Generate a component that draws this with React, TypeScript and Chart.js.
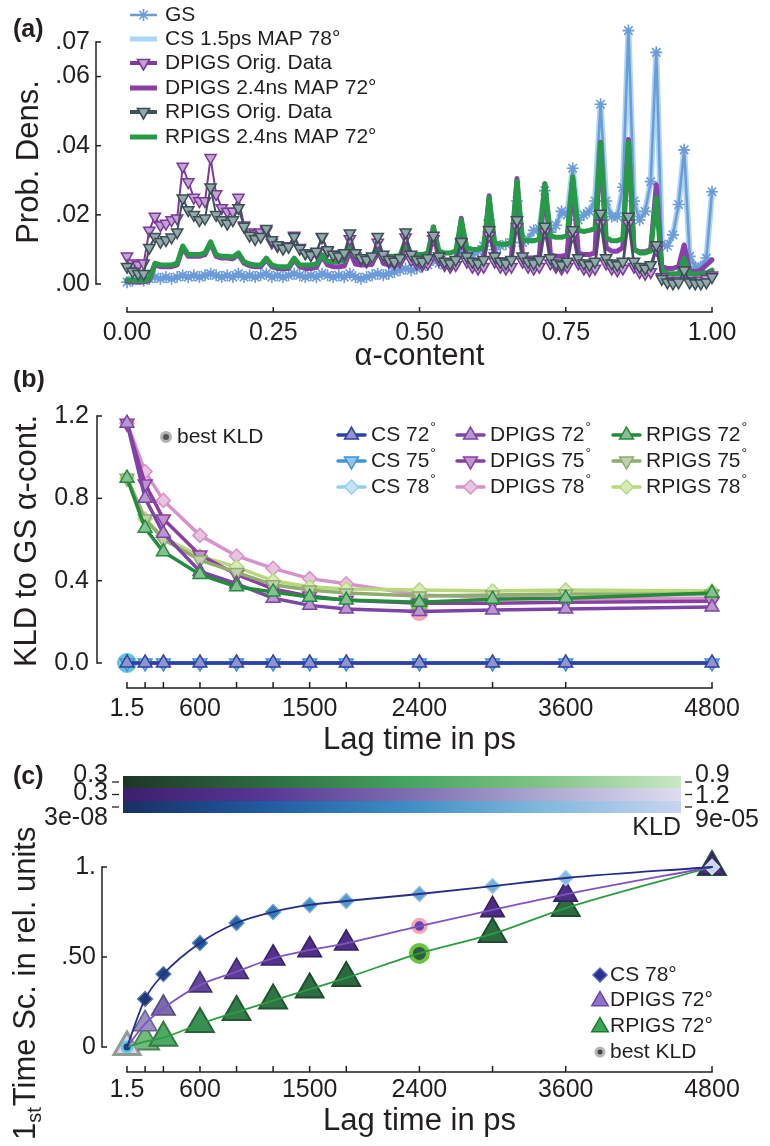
import React, { useEffect, useRef } from 'react';
import { Chart, registerables } from 'chart.js';
import { drawPoint } from 'chart.js/helpers';

Chart.register(...registerables);

// ---------------- Panel (a): α-content histograms ----------------
// histogram bin centres k/105 (k = 0..105)
const alphaBins: number[] = Array.from({ length: 106 }, (_, k) => k / 105);
const alphaTicks = [0, 0.25, 0.5, 0.75, 1];
const alphaTickLabels = ['0.00', '0.25', '0.50', '0.75', '1.00'];
const densTicks = [0, 0.02, 0.04, 0.06, 0.07];
const densTickLabels = ['.00', '.02', '.04', '.06', '.07'];

const gsDensity = [
  0.0005, 0.001, 0.0015, 0.001, 0.0015,
  0.002, 0.0015, 0.002, 0.0015, 0.002,
  0.0025, 0.002, 0.0025, 0.002, 0.0025,
  0.003, 0.0025, 0.002, 0.0025, 0.002,
  0.003, 0.002, 0.0025, 0.002, 0.0025,
  0.003, 0.002, 0.0025, 0.002, 0.0025,
  0.003, 0.0025, 0.002, 0.0025, 0.002,
  0.003, 0.0025, 0.002, 0.0025, 0.002,
  0.003, 0.002, 0.0015, 0.002, 0.0025,
  0.003, 0.0025, 0.003, 0.0035, 0.004,
  0.0045, 0.004, 0.0045, 0.005, 0.0055,
  0.007, 0.006, 0.0055, 0.006, 0.0065,
  0.009, 0.008, 0.0085, 0.0095, 0.011,
  0.0185, 0.01, 0.011, 0.0115, 0.012,
  0.024, 0.012, 0.013, 0.0155, 0.016,
  0.027, 0.015, 0.017, 0.021, 0.02,
  0.0335, 0.0185, 0.02, 0.021, 0.024,
  0.052, 0.024, 0.0195, 0.0195, 0.028,
  0.0733, 0.024, 0.0185, 0.021, 0.0296,
  0.067, 0.0115, 0.011, 0.0142, 0.023,
  0.0388, 0.008, 0.005, 0.005, 0.0075,
  0.0267,
];
// CS 1.5 ps MAP 78° coincides with GS in the picture
const csMapDensity = gsDensity;

const dpigsOrigDensity = [
  0.008, 0.006, 0.0055, 0.006, 0.0155,
  0.0195, 0.017, 0.0175, 0.0185, 0.019,
  0.034, 0.0295, 0.025, 0.024, 0.024,
  0.0365, 0.026, 0.022, 0.021, 0.021,
  0.025, 0.017, 0.015, 0.0145, 0.015,
  0.0155, 0.012, 0.011, 0.0105, 0.011,
  0.014, 0.0105, 0.009, 0.0085, 0.009,
  0.0135, 0.0095, 0.0085, 0.008, 0.0085,
  0.013, 0.008, 0.007, 0.0065, 0.007,
  0.012, 0.0075, 0.0065, 0.006, 0.0065,
  0.0135, 0.007, 0.006, 0.0055, 0.006,
  0.013, 0.007, 0.0055, 0.005, 0.0055,
  0.012, 0.0065, 0.005, 0.0045, 0.005,
  0.014, 0.0065, 0.005, 0.0045, 0.005,
  0.0165, 0.0065, 0.005, 0.0045, 0.005,
  0.015, 0.006, 0.005, 0.0045, 0.005,
  0.014, 0.006, 0.0045, 0.004, 0.0045,
  0.0175, 0.006, 0.0045, 0.004, 0.0045,
  0.0175, 0.005, 0.0035, 0.003, 0.0035,
  0.01, 0.002, 0.001, 0.0008, 0.001,
  0.004, 0.001, 0.0008, 0.001, 0.0015,
  0.0025,
];

const dpigsMapDensity = [
  0.0008, 0.0006, 0.0006, 0.0006, 0.001,
  0.0055, 0.005, 0.005, 0.005, 0.0055,
  0.0105, 0.008, 0.008, 0.008, 0.0085,
  0.0118, 0.008, 0.0075, 0.0075, 0.0073,
  0.0085, 0.006, 0.0053, 0.005, 0.005,
  0.007, 0.005, 0.0045, 0.0045, 0.0045,
  0.007, 0.005, 0.0045, 0.0045, 0.0048,
  0.008, 0.0055, 0.005, 0.005, 0.0052,
  0.0095, 0.0058, 0.0055, 0.0055, 0.0058,
  0.0105, 0.006, 0.0055, 0.0055, 0.006,
  0.012, 0.0062, 0.0058, 0.0058, 0.0062,
  0.0165, 0.0065, 0.006, 0.006, 0.0065,
  0.019, 0.007, 0.0065, 0.0065, 0.007,
  0.0255, 0.0075, 0.007, 0.007, 0.0075,
  0.0305, 0.008, 0.0075, 0.0075, 0.008,
  0.029, 0.0085, 0.008, 0.008, 0.0085,
  0.0305, 0.009, 0.0085, 0.0085, 0.009,
  0.041, 0.0105, 0.0095, 0.0095, 0.0105,
  0.0418, 0.01, 0.0093, 0.0093, 0.01,
  0.0287, 0.005, 0.0045, 0.0045, 0.005,
  0.0113, 0.004, 0.0035, 0.004, 0.0055,
  0.007,
];

const rpigsOrigDensity = [
  0.005, 0.0036, 0.003, 0.003, 0.0105,
  0.0137, 0.0122, 0.0127, 0.0135, 0.015,
  0.0248, 0.0214, 0.02, 0.0185, 0.019,
  0.028, 0.02, 0.0185, 0.0175, 0.0185,
  0.022, 0.0166, 0.014, 0.013, 0.0137,
  0.016, 0.0127, 0.0113, 0.0103, 0.0108,
  0.0137, 0.0103, 0.0089, 0.0084, 0.0094,
  0.0137, 0.0098, 0.0085, 0.008, 0.009,
  0.0147, 0.009, 0.0075, 0.007, 0.008,
  0.0137, 0.0085, 0.007, 0.0065, 0.0075,
  0.015, 0.0085, 0.007, 0.0065, 0.0075,
  0.014, 0.008, 0.0065, 0.006, 0.007,
  0.0122, 0.008, 0.0065, 0.006, 0.007,
  0.0156, 0.008, 0.0065, 0.006, 0.007,
  0.0185, 0.008, 0.0065, 0.006, 0.007,
  0.0166, 0.0075, 0.006, 0.0055, 0.0065,
  0.0156, 0.0075, 0.006, 0.0055, 0.0065,
  0.0204, 0.0075, 0.006, 0.0055, 0.0065,
  0.0195, 0.0065, 0.005, 0.0045, 0.0055,
  0.0113, 0.0015, 0.0005, 0.0002, 0.0005,
  0.004, 0.0005, 0.0002, 0.0002, 0.0005,
  0.002,
];

const rpigsMapDensity = [
  0.0012, 0.001, 0.001, 0.001, 0.0015,
  0.006, 0.0055, 0.0055, 0.0055, 0.006,
  0.011, 0.0085, 0.0085, 0.0085, 0.009,
  0.0122, 0.0085, 0.008, 0.008, 0.0078,
  0.009, 0.0065, 0.0058, 0.0055, 0.0055,
  0.0075, 0.0055, 0.005, 0.005, 0.005,
  0.0075, 0.0055, 0.0055, 0.0055, 0.0058,
  0.0085, 0.0065, 0.0065, 0.0065, 0.0068,
  0.0105, 0.0075, 0.0075, 0.0075, 0.0078,
  0.011, 0.008, 0.008, 0.008, 0.0082,
  0.0125, 0.0085, 0.0085, 0.0085, 0.009,
  0.0165, 0.0095, 0.009, 0.009, 0.0095,
  0.0185, 0.0105, 0.01, 0.01, 0.0105,
  0.025, 0.012, 0.0115, 0.0115, 0.012,
  0.0298, 0.0128, 0.0125, 0.0125, 0.013,
  0.029, 0.0138, 0.0135, 0.0135, 0.014,
  0.031, 0.0155, 0.0152, 0.0155, 0.016,
  0.0408, 0.0135, 0.0125, 0.0125, 0.0132,
  0.041, 0.01, 0.009, 0.009, 0.0095,
  0.025, 0.004, 0.003, 0.003, 0.003,
  0.0075, 0.003, 0.0028, 0.003, 0.0032,
  0.004,
];

// ---------------- Panel (b): KLD vs lag time ----------------
const lagTimes = [1.5, 150, 300, 600, 900, 1200, 1500, 1800, 2400, 3000, 3600, 4800];
const lagLabelValues = [1.5, 600, 1500, 2400, 3600, 4800];
const lagTickLabels = ['1.5', '600', '1500', '2400', '3600', '4800'];
const kldTicks = [0, 0.4, 0.8, 1.2];
const kldTickLabels = ['0.0', '0.4', '0.8', '1.2'];

const kldCs72 = [2e-6, 8e-6, 1.4e-5, 2.2e-5, 3e-5, 3.8e-5, 4.6e-5, 5.2e-5, 6e-5, 6.8e-5, 7.4e-5, 9.5e-5];
const kldCs75 = [1e-6, 6e-6, 1.2e-5, 2e-5, 2.8e-5, 3.7e-5, 4.5e-5, 5.1e-5, 5.8e-5, 6.5e-5, 7.1e-5, 9.2e-5];
const kldCs78 = [3e-8, 4.5e-6, 1.1e-5, 1.8e-5, 2.7e-5, 3.6e-5, 4.5e-5, 5e-5, 5.6e-5, 6.3e-5, 6.8e-5, 9e-5];
const kldDp72 = [1.165, 0.8, 0.63, 0.445, 0.385, 0.315, 0.28, 0.262, 0.25, 0.257, 0.262, 0.272];
const kldDp75 = [1.165, 0.87, 0.7, 0.525, 0.43, 0.36, 0.325, 0.305, 0.29, 0.29, 0.295, 0.3];
const kldDp78 = [1.165, 0.93, 0.79, 0.62, 0.52, 0.46, 0.41, 0.385, 0.33, 0.32, 0.315, 0.315];
const kldRp72 = [0.898, 0.655, 0.54, 0.43, 0.37, 0.345, 0.32, 0.306, 0.295, 0.31, 0.315, 0.34];
const kldRp75 = [0.898, 0.7, 0.6, 0.5, 0.44, 0.38, 0.355, 0.34, 0.325, 0.33, 0.335, 0.335];
const kldRp78 = [0.898, 0.7, 0.61, 0.52, 0.466, 0.4, 0.37, 0.36, 0.355, 0.35, 0.355, 0.35];

// best KLD picks (lag index): CS 78° @ 1.5 ps, DPIGS 72° @ 2.4 ns, RPIGS 72° @ 2.4 ns
const bestLagIdx = { cs: 0, dp: 8, rp: 8 };

// ---------------- Panel (c): first time scale ----------------
const tsCs78 = [0, 0.267, 0.405, 0.578, 0.689, 0.75, 0.789, 0.811, 0.85, 0.894, 0.939, 1.0];
const tsDp72 = [0, 0.128, 0.215, 0.344, 0.418, 0.493, 0.539, 0.576, 0.672, 0.762, 0.848, 1.0];
const tsRp72 = [0, 0.03, 0.052, 0.128, 0.194, 0.258, 0.32, 0.384, 0.52, 0.628, 0.772, 1.0];
const tsTicks = [0, 0.5, 1];
const tsTickLabels = ['0', '.50', '1.'];
const cbarLowLabels = ['0.3', '0.3', '3e-08'];
const cbarHighLabels = ['0.9', '1.2', '9e-05'];
const cbarRanges = [[0.3, 0.9], [0.3, 1.2], [3e-8, 9e-5]];

// ---------------- styling helpers ----------------
const INK = '#231f20';
const FONT = '"Liberation Sans", Arial, Helvetica, sans-serif';
const fnt = (px: number, bold = false) => `${bold ? 'bold ' : ''}${px}px ${FONT}`;

const greenStops = ['#1f3526', '#2c6a41', '#43a35f', '#80c487', '#cae7c4'];
const purpleStops = ['#3c1f6e', '#573593', '#7b6baf', '#aba7d1', '#dedcf0'];
const blueStops = ['#1a2e64', '#1f5a9f', '#3c8cc4', '#80b8dc', '#c8d4f0'];
const cbarStops = [greenStops, purpleStops, blueStops];

function hexRgb(h: string): number[] {
  const n = parseInt(h.slice(1), 16);
  return [(n >> 16) & 255, (n >> 8) & 255, n & 255];
}
const rgbStr = (c: number[]) => `rgb(${c.map((v) => Math.round(v)).join(',')})`;
function mixArr(a: number[], b: number[], t: number) {
  return a.map((v, i) => v + (b[i] - v) * t);
}
function mix(a: string, b: string, t: number) {
  return rgbStr(mixArr(hexRgb(a), hexRgb(b), t));
}
function cmapArr(stops: string[], t: number): number[] {
  const tt = Math.max(0, Math.min(1, t));
  const n = stops.length - 1;
  const i = Math.min(n - 1, Math.floor(tt * n));
  const f = tt * n - i;
  return mixArr(hexRgb(stops[i]), hexRgb(stops[i + 1]), f);
}

function text(ctx: CanvasRenderingContext2D, s: string, x: number, y: number, px: number,
  align: CanvasTextAlign = 'left', bold = false, color = INK, baseline: CanvasTextBaseline = 'middle') {
  ctx.save();
  ctx.font = fnt(px, bold);
  ctx.fillStyle = color;
  ctx.textAlign = align;
  ctx.textBaseline = baseline;
  ctx.fillText(s, x, y);
  ctx.restore();
}
function vtext(ctx: CanvasRenderingContext2D, s: string, cx: number, cy: number, px: number) {
  ctx.save();
  ctx.translate(cx, cy);
  ctx.rotate(-Math.PI / 2);
  text(ctx, s, 0, 0, px, 'center');
  ctx.restore();
}
function seg(ctx: CanvasRenderingContext2D, x1: number, y1: number, x2: number, y2: number,
  color = INK, w = 1.5, cap: CanvasLineCap = 'butt') {
  ctx.save();
  ctx.strokeStyle = color;
  ctx.lineWidth = w;
  ctx.lineCap = cap;
  ctx.beginPath();
  ctx.moveTo(x1, y1);
  ctx.lineTo(x2, y2);
  ctx.stroke();
  ctx.restore();
}
function mark(ctx: CanvasRenderingContext2D, style: string, x: number, y: number, r: number,
  fill: string, stroke: string, lw: number, rot = 0) {
  ctx.save();
  ctx.fillStyle = fill;
  ctx.strokeStyle = stroke;
  ctx.lineWidth = lw;
  drawPoint(ctx, { pointStyle: style, radius: r, rotation: rot, borderWidth: lw } as any, x, y);
  ctx.restore();
}
function yAxis(chart: any, ticks: number[], labels: string[], gap: number, tickLen = 5) {
  const { ctx, chartArea } = chart;
  const y = chart.scales.y;
  const x0 = chartArea.left;
  const ps = ticks.map((t) => y.getPixelForValue(t));
  seg(ctx, x0, Math.max(...ps) + 0.75, x0, Math.min(...ps) - 0.75);
  ps.forEach((p, i) => {
    seg(ctx, x0, p, x0 + tickLen, p);
    text(ctx, labels[i], x0 - gap, p, 25, 'right');
  });
}
function xAxis(chart: any, tickVals: number[], labelVals: number[], labels: string[], labelY: number, tickLen = 5) {
  const { ctx, chartArea } = chart;
  const x = chart.scales.x;
  const y0 = chartArea.bottom;
  const ps = tickVals.map((t) => x.getPixelForValue(t));
  seg(ctx, Math.min(...ps) - 0.75, y0, Math.max(...ps) + 0.75, y0);
  ps.forEach((p) => seg(ctx, p, y0, p, y0 - tickLen));
  labelVals.forEach((v, i) => text(ctx, labels[i], x.getPixelForValue(v), labelY, 25, 'center'));
}
// value range so that v0 sits at pixel p0 and v1 at p1, for an area spanning pixels a..b
function span(v0: number, p0: number, v1: number, p1: number, a: number, b: number): number[] {
  const k = (v1 - v0) / (p1 - p0);
  return [v0 + (a - p0) * k, v0 + (b - p0) * k];
}
function baseOptions(pad: any, xr: number[], yr: number[]) {
  return {
    responsive: false,
    animation: false,
    devicePixelRatio: 1,
    events: [],
    layout: { padding: pad },
    plugins: { legend: { display: false }, tooltip: { enabled: false }, title: { display: false } },
    scales: {
      x: { type: 'linear', display: false, min: xr[0], max: xr[1] },
      y: { type: 'linear', display: false, min: yr[0], max: yr[1] },
    },
    elements: { line: { borderJoinStyle: 'round', borderCapStyle: 'round', tension: 0 } },
  };
}
function overlay(id: string, draw: (chart: any) => void) {
  return { id, afterDraw: (chart: any) => { chart.ctx.save(); draw(chart); chart.ctx.restore(); } };
}

// ---------------- Panel (a) ----------------
const legendA = [
  { label: 'GS', line: '#6b9bd8', lw: 2.5, mk: 'star', r: 6, fill: '#6b9bd8', stroke: '#6b9bd8', rot: 0 },
  { label: 'CS 1.5ps MAP 78°', line: '#abd5f2', lw: 5 },
  { label: 'DPIGS Orig. Data', line: '#7d3c98', lw: 4, mk: 'triangle', r: 7, fill: '#c3a3d6', stroke: '#7a3a98', rot: 180 },
  { label: 'DPIGS 2.4ns MAP 72°', line: '#8b3fa8', lw: 5 },
  { label: 'RPIGS Orig. Data', line: '#3d5358', lw: 4, mk: 'triangle', r: 7, fill: '#93a8ab', stroke: '#3a4e53', rot: 180 },
  { label: 'RPIGS 2.4ns MAP 72°', line: '#279a48', lw: 5 },
];
function drawA(chart: any) {
  const ctx = chart.ctx;
  text(ctx, '(a)', 13, 30, 25, 'left', true);
  yAxis(chart, densTicks, densTickLabels, 6);
  vtext(ctx, 'Prob. Dens.', 29, 162, 31);
  xAxis(chart, alphaTicks, alphaTicks, alphaTickLabels, 333);
  text(ctx, 'α-content', 419.5, 356, 31, 'center');
  const rows = [15, 39, 63, 88, 112, 137];
  legendA.forEach((it: any, i) => {
    const y = rows[i];
    seg(ctx, 130, y, 157, y, it.line, it.lw, 'butt');
    if (it.mk) mark(ctx, it.mk, 143.5, y, it.r, it.fill, it.stroke, 1.6, it.rot);
    text(ctx, it.label, 165, y, 21);
  });
}
function configA(): any {
  const pts = (arr: number[]) => alphaBins.map((x, i) => ({ x, y: arr[i] }));
  const L = 96, R = 722, T = 20, B = 312, H = 370;
  return {
    type: 'line',
    data: {
      datasets: [
        { data: pts(rpigsOrigDensity), borderColor: '#3d5358', borderWidth: 2, pointStyle: 'triangle', pointRotation: 180,
          pointRadius: 6.5, pointBackgroundColor: '#93a8ab', pointBorderColor: '#3a4e53', pointBorderWidth: 1.5, clip: false },
        { data: pts(dpigsOrigDensity), borderColor: '#7d3c98', borderWidth: 2, pointStyle: 'triangle', pointRotation: 180,
          pointRadius: 6.5, pointBackgroundColor: '#c3a3d6', pointBorderColor: '#7a3a98', pointBorderWidth: 1.5, clip: false },
        { data: pts(rpigsMapDensity), borderColor: '#279a48', borderWidth: 5, pointRadius: 0, clip: false },
        { data: pts(dpigsMapDensity), borderColor: '#8b3fa8', borderWidth: 5, pointRadius: 0, clip: false },
        { data: pts(gsDensity), borderColor: '#6b9bd8', borderWidth: 2.5, pointStyle: 'star', pointRadius: 6,
          pointBorderColor: '#6b9bd8', pointBackgroundColor: '#6b9bd8', pointBorderWidth: 1.6, clip: false },
        { data: pts(csMapDensity), borderColor: '#abd5f2', borderWidth: 6, pointRadius: 0, clip: false },
      ],
    },
    options: baseOptions({ left: L, right: 770 - R, top: T, bottom: H - B },
      span(0, 127, 1, 712, L, R), span(0, 284, 0.07, 42, B, T)),
    plugins: [overlay('ovA', drawA)],
  };
}

// ---------------- Panel (b) ----------------
const kldSeries = [
  { name: 'CS 72', data: kldCs72, color: '#2f3fa3', point: 'triangle', rot: 0, r: 8 },
  { name: 'CS 75', data: kldCs75, color: '#3f93d8', point: 'triangle', rot: 180, r: 8 },
  { name: 'CS 78', data: kldCs78, color: '#93d0ee', point: 'rectRot', rot: 0, r: 7 },
  { name: 'DPIGS 72', data: kldDp72, color: '#7e44a6', point: 'triangle', rot: 0, r: 8 },
  { name: 'DPIGS 75', data: kldDp75, color: '#8c3da2', point: 'triangle', rot: 180, r: 8 },
  { name: 'DPIGS 78', data: kldDp78, color: '#d693c9', point: 'rectRot', rot: 0, r: 7 },
  { name: 'RPIGS 72', data: kldRp72, color: '#238c3b', point: 'triangle', rot: 0, r: 8 },
  { name: 'RPIGS 75', data: kldRp75, color: '#8fab6d', point: 'triangle', rot: 180, r: 8 },
  { name: 'RPIGS 78', data: kldRp78, color: '#b8d87c', point: 'rectRot', rot: 0, r: 7 },
];
const drawOrderB = [0, 1, 2, 6, 3, 7, 4, 8, 5];
const lighten = (c: string) => mix(c, '#ffffff', 0.45);

function drawB(chart: any) {
  const ctx = chart.ctx;
  text(ctx, '(b)', 13, 10, 25, 'left', true);
  yAxis(chart, kldTicks, kldTickLabels, 8);
  vtext(ctx, 'KLD to GS α-cont.', 27, 171, 31);
  xAxis(chart, lagTimes, lagLabelValues, lagTickLabels, 339, 6);
  text(ctx, 'Lag time in ps', 419.5, 370, 31, 'center');
  mark(ctx, 'circle', 166, 67, 4.5, '#555555', '#b3b3b3', 3);
  text(ctx, 'best KLD', 177, 67, 21);
  const colX = [338, 457, 613];
  const rowY = [65, 91, 117];
  kldSeries.forEach((s, i) => {
    const cx = colX[Math.floor(i / 3)], cy = rowY[i % 3];
    seg(ctx, cx, cy, cx + 27, cy, s.color, 3.5, 'round');
    mark(ctx, s.point, cx + 13.5, cy, s.r, lighten(s.color), s.color, 1.5, s.rot);
    ctx.font = fnt(21);
    const w = ctx.measureText(s.name).width;
    text(ctx, s.name, cx + 33, cy, 21);
    text(ctx, '°', cx + 34 + w, cy - 3, 14, 'left', false, INK, 'alphabetic');
  });
}
function configB(): any {
  const pts = (arr: number[]) => lagTimes.map((x, i) => ({ x, y: arr[i] }));
  const L = 97, R = 722, T = 30, B = 318, H = 390;
  const lineSets = drawOrderB.map((i) => {
    const s = kldSeries[i];
    return {
      data: pts(s.data), borderColor: s.color, borderWidth: 3.5, pointStyle: s.point, pointRotation: s.rot,
      pointRadius: s.r, pointBackgroundColor: lighten(s.color), pointBorderColor: s.color, pointBorderWidth: 1.5, clip: false,
    };
  });
  const best = {
    data: [
      { x: lagTimes[bestLagIdx.cs], y: kldCs78[bestLagIdx.cs] },
      { x: lagTimes[bestLagIdx.dp], y: kldDp72[bestLagIdx.dp] },
      { x: lagTimes[bestLagIdx.rp], y: kldRp72[bestLagIdx.rp] },
    ],
    showLine: false, pointStyle: 'circle', pointRadius: [9.5, 9, 8],
    pointBackgroundColor: ['#5ec6d6', '#f3a7b7', '#3c9e3f'], pointBorderColor: ['#5ec6d6', '#f3a7b7', '#74c64a'],
    pointBorderWidth: [1, 1, 3.5], clip: false,
  };
  return {
    type: 'line',
    data: { datasets: [...lineSets, best] },
    options: baseOptions({ left: L, right: 770 - R, top: T, bottom: H - B },
      span(1.5, 127, 4800, 712, L, R), span(0, 293, 1.2, 46, B, T)),
    plugins: [overlay('ovB', drawB)],
  };
}

// ---------------- Panel (c) ----------------
function drawC(chart: any) {
  const ctx = chart.ctx;
  text(ctx, '(c)', 13, 17, 25, 'left', true);
  const x0 = 123, x1 = 681;
  const rows = [[16, 28], [28, 41], [41, 53]];
  cbarStops.forEach((stops, i) => {
    const g = ctx.createLinearGradient(x0, 0, x1, 0);
    stops.forEach((c, j) => g.addColorStop(j / (stops.length - 1), c));
    ctx.fillStyle = g;
    ctx.fillRect(x0, rows[i][0], x1 - x0, rows[i][1] - rows[i][0]);
  });
  const tickY = [22, 34.5, 47];
  const lowY = [15, 33, 58];
  const highY = [15, 36, 60];
  for (let i = 0; i < 3; i++) {
    seg(ctx, 112, tickY[i], 119, tickY[i], INK, 1.3);
    text(ctx, cbarLowLabels[i], 108, lowY[i], 25, 'right');
    seg(ctx, 685, tickY[i], 692, tickY[i], INK, 1.3);
    text(ctx, cbarHighLabels[i], 695, highY[i], 25, 'left');
  }
  text(ctx, 'KLD', 681, 68, 25, 'right');

  yAxis(chart, tsTicks, tsTickLabels, 6);
  ctx.save();
  ctx.translate(26, 380);
  ctx.rotate(-Math.PI / 2);
  ctx.fillStyle = INK;
  ctx.textBaseline = 'middle';
  ctx.textAlign = 'left';
  ctx.font = fnt(31);
  ctx.fillText('1', 0, 0);
  let w = ctx.measureText('1').width;
  ctx.font = fnt(20);
  ctx.fillText('st', w, 9);
  w += ctx.measureText('st').width;
  ctx.font = fnt(31);
  ctx.fillText('Time Sc. in rel. units', w + 1, 0);
  ctx.restore();

  xAxis(chart, lagTimes, lagLabelValues, lagTickLabels, 330, 6);
  text(ctx, 'Lag time in ps', 419.5, 361, 31, 'center');

  const lx = 600, tx = 610;
  const ly = [215, 240, 266, 292];
  mark(ctx, 'rectRot', lx, ly[0], 7, '#2b2f8f', '#5266c4', 1.5);
  text(ctx, 'CS 78°', tx, ly[0], 21);
  mark(ctx, 'triangle', lx, ly[1] + 1, 9.5, '#9170c8', '#6a45b0', 1.5);
  text(ctx, 'DPIGS 72°', tx, ly[1], 21);
  mark(ctx, 'triangle', lx, ly[2] + 1, 9.5, '#3ba653', '#1f7a34', 1.5);
  text(ctx, 'RPIGS 72°', tx, ly[2], 21);
  mark(ctx, 'circle', lx, ly[3], 4, '#444444', '#b5b5b5', 3);
  text(ctx, 'best KLD', tx, ly[3], 21);
}
function configC(): any {
  const pts = (arr: number[]) => lagTimes.map((x, i) => ({ x, y: arr[i] }));
  const L = 102, R = 722, T = 90, B = 312, H = 386;
  // marker face colour from the KLD value on each colour bar (faces a shade lighter than the bar's dark end)
  const colorsOf = (kld: number[], range: number[], stops: string[], lift: number) =>
    kld.map((v) => cmapArr(stops, lift + (1 - lift) * (v - range[0]) / (range[1] - range[0])));
  const csCol = colorsOf(kldCs78, cbarRanges[2], blueStops, 0.03);
  const dpCol = colorsOf(kldDp72, cbarRanges[1], purpleStops, 0.2);
  const rpCol = colorsOf(kldRp72, cbarRanges[0], greenStops, 0.24);
  const hideAt = (idx: number, r: number) => (c: any) => (c.dataIndex === idx ? 0 : r);
  const smooth = { cubicInterpolationMode: 'monotone', pointRadius: 0, borderWidth: 1.8, clip: false };
  return {
    type: 'line',
    data: {
      datasets: [
        { data: pts(tsCs78), borderColor: '#262d86', ...smooth },
        { data: pts(tsDp72), borderColor: '#7e55c0', ...smooth },
        { data: pts(tsRp72), borderColor: '#2b9c40', ...smooth },
        {
          data: [
            { x: lagTimes[bestLagIdx.cs], y: tsCs78[bestLagIdx.cs] },
            { x: lagTimes[bestLagIdx.dp], y: tsDp72[bestLagIdx.dp] },
            { x: lagTimes[bestLagIdx.rp], y: tsRp72[bestLagIdx.rp] },
          ],
          showLine: false, pointStyle: 'circle', pointRadius: [5, 6.5, 8.5],
          pointBackgroundColor: ['#1f3b7a', '#6a40b2', '#2f5e3e'], pointBorderColor: ['#5ccbdc', '#f4a8b6', '#6cc43f'],
          pointBorderWidth: [3, 3.5, 4], clip: false,
        },
        { data: pts(tsCs78), showLine: false, pointStyle: 'rectRot', pointRadius: hideAt(bestLagIdx.cs, 7.5),
          pointBackgroundColor: csCol.map(rgbStr), pointBorderColor: csCol.map((c) => rgbStr(mixArr(c, [255, 255, 255], 0.3))),
          pointBorderWidth: 1.3, clip: false },
        { data: pts(tsDp72), showLine: false, pointStyle: 'triangle', pointRadius: hideAt(bestLagIdx.dp, 13.5),
          pointBackgroundColor: dpCol.map(rgbStr), pointBorderColor: dpCol.map((c) => rgbStr(mixArr(c, [0, 0, 0], 0.3))),
          pointBorderWidth: 1.6, clip: false },
        { data: pts(tsRp72), showLine: false, pointStyle: 'triangle', pointRadius: hideAt(bestLagIdx.rp, 16),
          pointBackgroundColor: rpCol.map(rgbStr), pointBorderColor: rpCol.map((c) => rgbStr(mixArr(c, [0, 0, 0], 0.3))),
          pointBorderWidth: 2, clip: false },
      ],
    },
    options: baseOptions({ left: L, right: 770 - R, top: T, bottom: H - B },
      span(1.5, 127, 4800, 712, L, R), span(0, 287, 1, 107, B, T)),
    plugins: [overlay('ovC', drawC)],
  };
}

export default function App() {
  const refA = useRef<HTMLCanvasElement>(null);
  const refB = useRef<HTMLCanvasElement>(null);
  const refC = useRef<HTMLCanvasElement>(null);
  useEffect(() => {
    const charts = [
      new Chart(refA.current as HTMLCanvasElement, configA()),
      new Chart(refB.current as HTMLCanvasElement, configB()),
      new Chart(refC.current as HTMLCanvasElement, configC()),
    ];
    return () => charts.forEach((c) => c.destroy());
  }, []);
  const pos = (top: number): React.CSSProperties => ({ position: 'absolute', left: 0, top, display: 'block' });
  return (
    <div style={{ position: 'absolute', left: 0, top: 0, width: 770, height: 1146, background: '#fff', overflow: 'hidden' }}>
      <canvas ref={refA} width={770} height={370} style={pos(0)} />
      <canvas ref={refB} width={770} height={390} style={pos(370)} />
      <canvas ref={refC} width={770} height={386} style={pos(760)} />
    </div>
  );
}
